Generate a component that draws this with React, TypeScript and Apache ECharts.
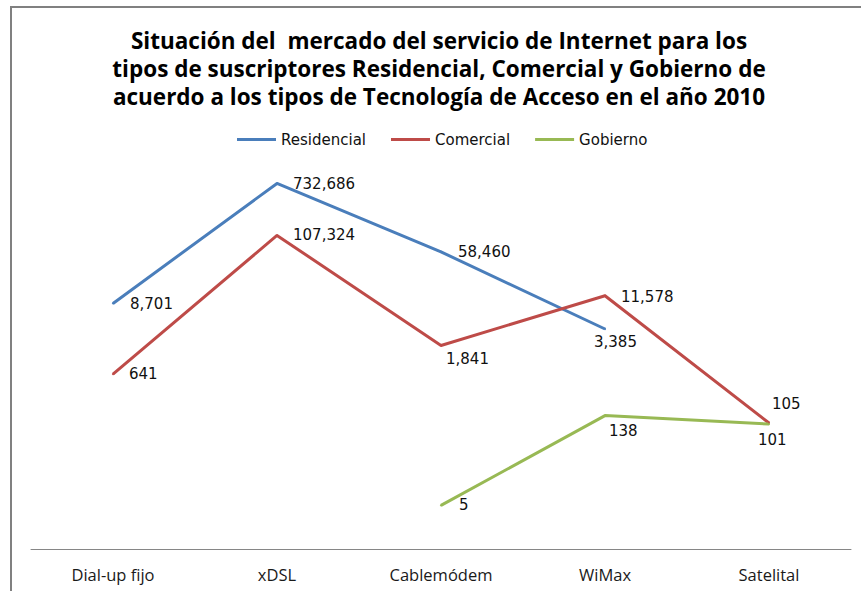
import React, { useEffect, useRef } from "react";
import * as echarts from "echarts";

const categories = ["Dial-up fijo", "xDSL", "Cablemódem", "WiMax", "Satelital"];
const residencial = [8701, 732686, 58460, 3385, null];
const comercial = [641, 107324, 1841, 11578, 105];
const gobierno = [null, null, 5, 138, 101];

const titleLines = [
  "Situación del  mercado del servicio de Internet para los",
  "tipos de suscriptores Residencial, Comercial y Gobierno de",
  "acuerdo a los tipos de Tecnología de Acceso en el año 2010",
];

// label offsets (px) relative to a "right" placed label
const resOffsets = [[1, 1], [0, 1], [1, 0], [-27, 13], [0, 0]];
const comOffsets = [[0, 0], [0, 0], [-11, 14], [0, 1], [-13, -19]];
const gobOffsets = [[0, 0], [0, 0], [2, 0], [-12, 15], [-27, 16]];

const fmt = (v: number) => v.toLocaleString("en-US");

function build(values: (number | null)[], offsets: number[][]) {
  return values.map((v, i) =>
    v === null
      ? null
      : { value: v, label: { offset: offsets[i] } }
  );
}

export default function App() {
  const ref = useRef<HTMLDivElement>(null);
  useEffect(() => {
    if (!ref.current) return;
    const chart = echarts.init(ref.current, null, { renderer: "svg" });
    const labelStyle = {
      show: true,
      position: "right" as const,
      distance: 15,
      fontFamily: "DejaVu Sans",
      fontSize: 15,
      color: "#111",
      formatter: (p: any) => fmt(p.value),
    };
    const mkSeries = (name: string, data: any[], color: string) => ({
      name,
      type: "line",
      data,
      symbol: "circle",
      symbolSize: 2,
      showSymbol: true,
      connectNulls: false,
      lineStyle: { color, width: 3 },
      itemStyle: { color },
      label: labelStyle,
      emphasis: { disabled: true },
    });
    chart.setOption({
      animation: false,
      backgroundColor: "#ffffff",
      title: {
        text: titleLines.join("\n"),
        left: 439,
        top: 26,
        padding: 0,
        textAlign: "center",
        textStyle: {
          fontFamily: "Open Sans",
          fontWeight: "bold",
          fontSize: 22.5,
          lineHeight: 28,
          color: "#000",
        },
      },
      legend: {
        left: 237,
        top: 132,
        padding: 0,
        icon: "rect",
        itemWidth: 39,
        itemHeight: 3,
        itemGap: 25,
        textStyle: { fontFamily: "DejaVu Sans", fontSize: 15, color: "#111" },
        data: ["Residencial", "Comercial", "Gobierno"],
      },
      grid: { left: 31, right: 10, top: 175, bottom: 42, containLabel: false },
      xAxis: {
        type: "category",
        data: categories,
        boundaryGap: true,
        axisLine: { show: true, lineStyle: { color: "#868686", width: 1 } },
        axisTick: { show: false },
        axisLabel: {
          margin: 17,
          fontFamily: "Open Sans",
          fontSize: 16.5,
          color: "#1a1a1a",
        },
      },
      yAxis: {
        type: "log",
        logBase: 10,
        min: 1,
        max: 1000000,
        show: false,
        splitLine: { show: false },
      },
      graphic: [
        {
          type: "line",
          shape: { x1: 10, y1: 7, x2: 861, y2: 7 },
          style: { stroke: "#808080", lineWidth: 2 },
        },
        {
          type: "line",
          shape: { x1: 11, y1: 6, x2: 11, y2: 591 },
          style: { stroke: "#808080", lineWidth: 2 },
        },
      ],
      series: [
        mkSeries("Residencial", build(residencial, resOffsets), "#4A7EBB"),
        mkSeries("Comercial", build(comercial, comOffsets), "#BE4B48"),
        mkSeries("Gobierno", build(gobierno, gobOffsets), "#98B954"),
      ],
    });
    return () => chart.dispose();
  }, []);
  return <div ref={ref} style={{ width: 861, height: 591, position: "absolute", left: 0, top: 0 }} />;
}
